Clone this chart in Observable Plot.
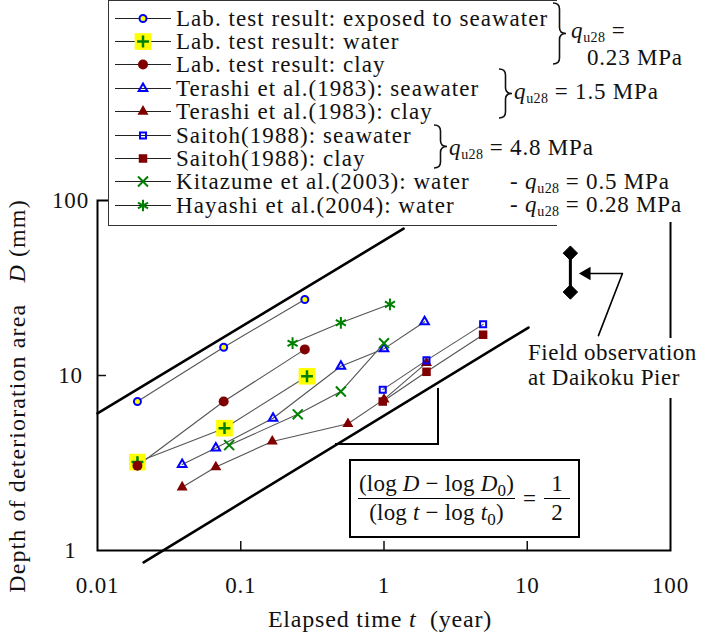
<!DOCTYPE html>
<html><head><meta charset="utf-8">
<script src="https://cdn.jsdelivr.net/npm/d3@7"></script>
<script src="https://cdn.jsdelivr.net/npm/@observablehq/plot@0.6"></script>
<style>
body{margin:0;background:#fff;}
#wrap{position:relative;width:702px;height:632px;overflow:hidden;font-family:"Liberation Serif","Times New Roman",serif;font-size:23px;letter-spacing:0.8px;color:#111;background:#fff;}
.abs{position:absolute;white-space:nowrap;line-height:1;}
.sub{font-size:14px;position:relative;top:4px;letter-spacing:0.3px;}
#legend{position:absolute;left:108px;top:0px;width:449px;height:226px;border:1.5px solid #333;border-right:none;background:#fff;box-sizing:border-box;font-size:23px;letter-spacing:1.05px;}
.lrow{position:absolute;left:0;height:23px;display:flex;align-items:center;white-space:nowrap;line-height:1;}
.lrow span{line-height:1;}
.lrow svg{flex:none;margin-left:4px;margin-right:3px;}
#formula{position:absolute;left:349px;top:459px;width:231px;height:79px;border:2px solid #000;background:#fff;box-sizing:border-box;display:flex;align-items:center;padding-left:7px;white-space:nowrap;letter-spacing:0.2px;font-size:23px;}
.frac{display:inline-flex;flex-direction:column;align-items:center;white-space:nowrap;}
.frac .num{padding:0 1px 2px 1px;border-bottom:1.3px solid #000;line-height:1.05;}
.frac .den{padding-top:2px;line-height:1.05;}
.fsub{font-size:17px;position:relative;top:5px;}
</style></head><body><div id="wrap"></div><script>
// ---------- data ----------
const seriesNames = [
  "Lab. test result: exposed to seawater",
  "Lab. test result: water",
  "Lab. test result: clay",
  "Terashi et al.(1983): seawater",
  "Terashi et al.(1983): clay",
  "Saitoh(1988): seawater",
  "Saitoh(1988): clay",
  "Kitazume et al.(2003): water",
  "Hayashi et al.(2004): water"
];
const labSeawaterT = [0.019, 0.076, 0.28];
const labSeawaterD = [7.1, 14.5, 27.2];
const labWaterT = [0.019, 0.077, 0.29];
const labWaterD = [3.2, 5.0, 9.9];
const labClayT = [0.019, 0.076, 0.28];
const labClayD = [3.05, 7.1, 14.1];
const terashiSeaT = [0.039, 0.067, 0.168, 0.5, 1.0, 1.92];
const terashiSeaD = [3.1, 3.85, 5.7, 11.3, 14.2, 20.3];
const terashiClayT = [0.039, 0.067, 0.166, 0.56, 1.0, 1.98];
const terashiClayD = [2.3, 3.0, 4.2, 5.3, 7.3, 11.8];
const saitohSeaT = [0.98, 1.98, 4.92];
const saitohSeaD = [8.3, 12.2, 19.6];
const saitohClayT = [0.98, 1.98, 4.92];
const saitohClayD = [7.1, 10.5, 17.1];
const kitazumeT = [0.083, 0.25, 0.5, 1.0];
const kitazumeD = [4.0, 6.0, 8.1, 15.3];
const hayashiT = [0.23, 0.5, 1.1];
const hayashiD = [15.3, 20.0, 25.5];

// reference lines of slope 1/2 (end points)
const upperRefT = [0.01, 1.37];
const upperRefD = [6.07, 69];
const lowerRefT = [0.021, 10.2];
const lowerRefD = [0.855, 18.8];
// field observation at Daikoku Pier
const fieldT = [20, 20];
const fieldD = [50, 30];
const arrowT = [31.4, 46.2, 26.8];
const arrowD = [16.9, 38.3, 38.3];
const arrowHeadT = [26.0];
const arrowHeadD = [38.3];

const xTicks = [0.01, 0.1, 1, 10, 100];
const yTicks = [1, 10, 100];

// ---------- styles ----------
const BLUE = "#0000ff", RED = "#800000", GREEN = "#008000", YEL = "#ffff00";
const styles = [
  {symbol: "circle", r: 3.5, fill: YEL, stroke: BLUE, sw: 2},
  {symbol: "plus", r: 3.9, fill: "none", stroke: GREEN, sw: 2.5, bg: true},
  {symbol: "circle", r: 5, fill: RED, stroke: "none", sw: 0},
  {symbol: "triangle", r: 3.2, fill: "none", stroke: BLUE, sw: 2},
  {symbol: "triangle", r: 4.1, fill: RED, stroke: "none", sw: 0},
  {symbol: "square", r: 3.4, fill: "none", stroke: BLUE, sw: 2},
  {symbol: "square", r: 4.8, fill: RED, stroke: "none", sw: 0},
  {symbol: "times", r: 4.6, fill: "none", stroke: GREEN, sw: 2},
  {symbol: "asterisk", r: 5.5, fill: "none", stroke: GREEN, sw: 2}
];
const seriesT = [labSeawaterT, labWaterT, labClayT, terashiSeaT, terashiClayT, saitohSeaT, saitohClayT, kitazumeT, hayashiT];
const seriesD = [labSeawaterD, labWaterD, labClayD, terashiSeaD, terashiClayD, saitohSeaD, saitohClayD, kitazumeD, hayashiD];

const rows = [];
seriesNames.forEach((name, i) => seriesT[i].forEach((t, j) => rows.push({series: name, idx: i, t, D: seriesD[i][j]})));
const pts = (T, D) => T.map((t, i) => ({t, D: D[i]}));

// draw order of markers (water first, then clay over it ...)
const dotOrder = [1, 2, 0, 4, 3, 6, 5, 7, 8];
const dotMarks = [];
for (const i of dotOrder) {
  const s = styles[i];
  const data = rows.filter(d => d.idx === i);
  if (s.bg) dotMarks.push(Plot.dot(data, {x: "t", y: "D", symbol: "square", r: 9.4, fill: YEL, stroke: "none"}));
  dotMarks.push(Plot.dot(data, {x: "t", y: "D", symbol: s.symbol, r: s.r, fill: s.fill, stroke: s.stroke, strokeWidth: s.sw}));
}

const chart = Plot.plot({
  width: 702, height: 632,
  marginLeft: 97, marginRight: 32, marginTop: 200, marginBottom: 82,
  x: {type: "log", domain: [0.01, 100]},
  y: {type: "log", domain: [1, 100]},
  style: {fontFamily: '"Liberation Serif", "Times New Roman", serif', fontSize: "23px", letterSpacing: "0.8px", color: "#111", background: "transparent", overflow: "visible"},
  marks: [
    Plot.line(pts(upperRefT, upperRefD), {x: "t", y: "D", stroke: "#000", strokeWidth: 2.6}),
    Plot.line(pts(lowerRefT, lowerRefD), {x: "t", y: "D", stroke: "#000", strokeWidth: 2.6}),
    Plot.line(rows, {x: "t", y: "D", z: "series", stroke: "#555", strokeWidth: 1.1}),
    ...dotMarks,
    Plot.line(pts(fieldT, fieldD), {x: "t", y: "D", stroke: "#000", strokeWidth: 3}),
    Plot.dot(pts(fieldT, fieldD), {x: "t", y: "D", symbol: "diamond2", r: 6.5, fill: "#000", stroke: "#000", strokeWidth: 1}),
    Plot.line(pts(arrowT, arrowD), {x: "t", y: "D", stroke: "#000", strokeWidth: 1.6}),
    Plot.dot(pts(arrowHeadT, arrowHeadD), {x: "t", y: "D", symbol: "triangle", r: 5, fill: "#000", stroke: "none", rotate: -90}),
    Plot.frame({stroke: "#000", strokeWidth: 2}),
    Plot.axisX({ticks: xTicks, tickSize: 0, tickPadding: 26, tickFormat: d => String(d), label: null}),
    Plot.axisX({ticks: [0.1, 1, 10], tickSize: -9, tickFormat: () => "", label: null, strokeWidth: 1.5}),
    Plot.axisY({ticks: yTicks, tickSize: 0, tickPadding: 27, textAnchor: "middle", tickFormat: d => String(d), label: null}),
    Plot.axisY({ticks: [10], tickSize: -9, tickFormat: () => "", label: null, strokeWidth: 1.5})
  ]
});

const wrap = document.getElementById("wrap");

// decorative box behind the data (right + bottom border only)
const deco = document.createElement("div");
deco.className = "abs";
Object.assign(deco.style, {left: "335px", top: "388px", width: "102px", height: "55px", borderRight: "2px solid #000", borderBottom: "2px solid #000"});
wrap.appendChild(deco);

chart.style.position = "absolute";
chart.style.left = "0px";
chart.style.top = "0px";
wrap.appendChild(chart);

// ---------- legend ----------
const symMap = {circle: d3.symbolCircle, plus: d3.symbolPlus, times: d3.symbolTimes, asterisk: d3.symbolAsterisk, triangle: d3.symbolTriangle, square: d3.symbolSquare};
function legendSymbol(s) {
  const cx = 30, cy = 11.5;
  let g = `<line x1="2" x2="58" y1="${cy}" y2="${cy}" stroke="#222" stroke-width="1.2"/>`;
  if (s.bg) g += `<path transform="translate(${cx},${cy})" d="${d3.symbol(d3.symbolSquare, Math.PI * 9.4 * 9.4)()}" fill="${YEL}"/>`;
  g += `<path transform="translate(${cx},${cy})" d="${d3.symbol(symMap[s.symbol], Math.PI * s.r * s.r)()}" fill="${s.fill}" stroke="${s.stroke}" stroke-width="${s.sw}"/>`;
  return `<svg width="60" height="23">${g}</svg>`;
}
const legend = document.createElement("div");
legend.id = "legend";
seriesNames.forEach((name, i) => {
  const row = document.createElement("div");
  row.className = "lrow";
  row.style.top = (5.5 + i * 23.4) + "px";
  row.innerHTML = legendSymbol(styles[i]) + `<span>${name}</span>`;
  legend.appendChild(row);
});
wrap.appendChild(legend);

// ---------- overlay svg: braces + axis titles ----------
function brace(x, y0, y1, w) {
  const ym = (y0 + y1) / 2, r = Math.min(6, (y1 - y0) / 4), xm = x + w / 2;
  return `M${x},${y0} Q${xm},${y0} ${xm},${y0 + r} L${xm},${ym - r} Q${xm},${ym} ${x + w},${ym} Q${xm},${ym} ${xm},${ym + r} L${xm},${y1 - r} Q${xm},${y1} ${x},${y1}`;
}
const ov = document.createElementNS("http://www.w3.org/2000/svg", "svg");
ov.setAttribute("width", 702); ov.setAttribute("height", 632);
ov.style.position = "absolute"; ov.style.left = "0"; ov.style.top = "0"; ov.style.pointerEvents = "none";
ov.innerHTML = `
<path d="${brace(553, 3, 64, 13)}" fill="none" stroke="#111" stroke-width="1.6"/>
<path d="${brace(499, 69, 118, 13)}" fill="none" stroke="#111" stroke-width="1.6"/>
<path d="${brace(434, 125, 168, 13)}" fill="none" stroke="#111" stroke-width="1.6"/>
<text font-family="Liberation Serif, serif" font-size="24" letter-spacing="1.1" fill="#111" text-anchor="middle" transform="translate(25,396) rotate(-90)" xml:space="preserve">Depth of deterioration area   <tspan font-style="italic">D</tspan> (mm)</text>
<text font-family="Liberation Serif, serif" font-size="24" letter-spacing="0.8" fill="#111" text-anchor="middle" x="380" y="627" xml:space="preserve">Elapsed time <tspan font-style="italic">t</tspan>  (year)</text>
`;
wrap.appendChild(ov);

// ---------- q_u28 annotations ----------
const Q = `<i>q</i><span class="sub">u28</span>`;
const notes = [
  {x: 571, y: 19, html: `${Q} =`},
  {x: 587, y: 46, html: `0.23 MPa`},
  {x: 514, y: 80, html: `${Q} = 1.5 MPa`},
  {x: 449, y: 136, html: `${Q} = 4.8 MPa`},
  {x: 510, y: 170, html: `- ${Q} = 0.5 MPa`, bg: true},
  {x: 510, y: 193, html: `- ${Q} = 0.28 MPa`, bg: true, tall: true}
];
for (const n of notes) {
  const d = document.createElement("div");
  d.className = "abs";
  d.style.left = n.x + "px"; d.style.top = n.y + "px";
  d.innerHTML = n.html;
  if (n.bg) { d.style.background = "#fff"; d.style.paddingRight = "12px"; }
  if (n.tall) { d.style.height = "29px"; }
  wrap.appendChild(d);
}

// field observation label
const fo = document.createElement("div");
fo.className = "abs";
Object.assign(fo.style, {left: "528px", top: "338px", width: "174px", height: "58px", background: "#fff", lineHeight: "25px", paddingTop: "2px", letterSpacing: "0.5px"});
fo.innerHTML = "Field observation<br>at Daikoku Pier";
wrap.appendChild(fo);

// formula box
const fb = document.createElement("div");
fb.id = "formula";
fb.innerHTML = `<span class="frac"><span class="num">(log <i>D</i> − log <i>D</i><span class="fsub">0</span>)</span><span class="den">(log <i>t</i> − log <i>t</i><span class="fsub">0</span>)</span></span><span style="margin:0 8px 0 8px">=</span><span class="frac"><span class="num">&nbsp;1&nbsp;</span><span class="den">2</span></span>`;
wrap.appendChild(fb);
</script></body></html>
